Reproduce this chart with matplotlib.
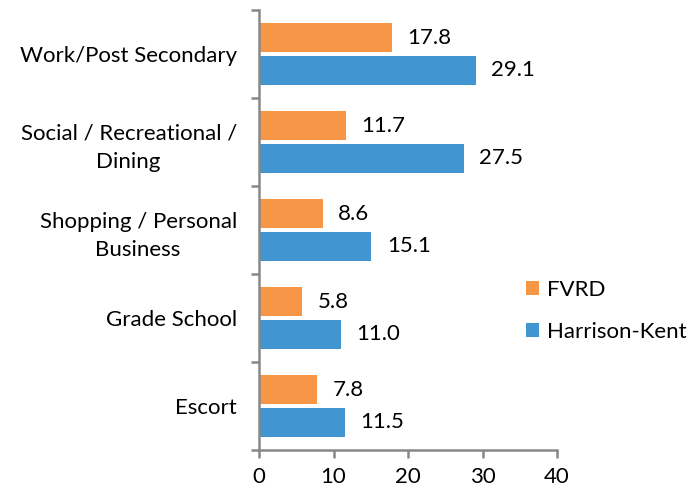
import numpy as np
import matplotlib.pyplot as plt

plt.rcParams['font.family'] = ['Lato', 'DejaVu Sans']

categories = ["Work/Post Secondary", "Social / Recreational /\nDining",
              "Shopping / Personal\nBusiness", "Grade School", "Escort"]
fvrd = [17.8, 11.7, 8.6, 5.8, 7.8]
harrison = [29.1, 27.5, 15.1, 11.0, 11.5]
xticks = [0, 10, 20, 30, 40]

orange = "#F79646"
blue = "#4195D1"
grey = "#888888"

fig = plt.figure(figsize=(6.89, 4.91), dpi=100)
ax = fig.add_axes([259/689, 1 - 450/491, (557-259)/689, 440/491])

y = np.arange(len(categories))
h = 0.32
gap = 0.055
b1 = ax.barh(y - (h + gap)/2, fvrd, height=h, color=orange, label="FVRD")
b2 = ax.barh(y + (h + gap)/2, harrison, height=h, color=blue, label="Harrison-Kent")

for bars, vals in [(b1, fvrd), (b2, harrison)]:
    for rect, v in zip(bars, vals):
        ax.annotate(f"{v:.1f}", (rect.get_width(), rect.get_y() + rect.get_height()/2),
                    xytext=(11, 0), textcoords="offset points", va="center", ha="left",
                    fontsize=16, color="black")

ax.set_xlim(0, 40)
ax.set_ylim(len(categories) - 0.5, -0.5)
ax.set_xticks(xticks)
ax.set_xticklabels([str(t) for t in xticks], fontsize=16)

ax.set_yticks(y)
ax.set_yticklabels(categories, fontsize=16)
for lab in ax.get_yticklabels():
    lab.set_multialignment("center")
    lab.set_linespacing(1.5)
ax.tick_params(axis="y", length=0, pad=16)
ax.set_yticks(np.arange(len(categories) + 1) - 0.5, minor=True)
ax.tick_params(axis="y", which="minor", length=6, width=1.8, color=grey, direction="out")
ax.tick_params(axis="x", length=6, width=1.8, color=grey, direction="out", pad=6)

for s in ["top", "right"]:
    ax.spines[s].set_visible(False)
for s in ["left", "bottom"]:
    ax.spines[s].set_color(grey)
    ax.spines[s].set_linewidth(1.8)

fig.legend(handles=[b1, b2], loc="upper left", bbox_to_anchor=(526/689, 1 - 280/491),
           frameon=False, fontsize=16, borderaxespad=0, borderpad=0,
           handlelength=0.6, handleheight=0.6, labelspacing=1.0, handletextpad=0.35)

fig.savefig("out.png", dpi=100)
